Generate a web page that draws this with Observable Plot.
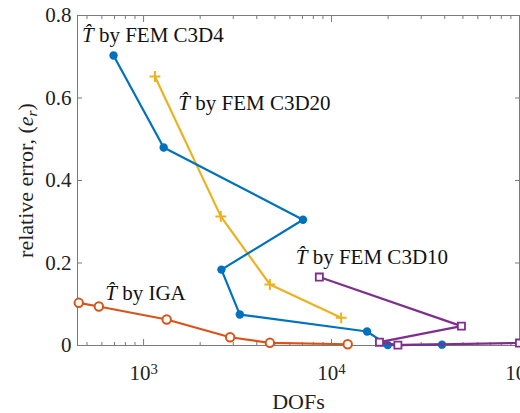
<!DOCTYPE html>
<html><head><meta charset="utf-8">
<script src="https://cdn.jsdelivr.net/npm/d3@7"></script>
<script src="https://cdn.jsdelivr.net/npm/@observablehq/plot@0.6"></script>
<style>body{margin:0;background:#fff}</style>
</head><body><div id="chart"></div>
<script>
// ---- data ----
const c3d4Dofs = [692, 1279, 7050, 2595, 3251, 15450, 19900, 38700];
const c3d4Err  = [0.703, 0.480, 0.305, 0.184, 0.075, 0.034, 0.001, 0.002];
const c3d20Dofs = [1149, 2575, 4698, 11250];
const c3d20Err  = [0.652, 0.313, 0.148, 0.067];
const igaDofs = [452, 578, 1327, 2887, 4698, 12190];
const igaErr  = [0.1035, 0.0945, 0.063, 0.020, 0.0065, 0.003];
const c3d10Dofs = [8610, 49100, 17990, 22540, 100000];
const c3d10Err  = [0.166, 0.047, 0.008, 0.001, 0.006];

const labelText = ["T\u0302 by FEM C3D4", "T\u0302 by FEM C3D20", "T\u0302 by FEM C3D10", "T\u0302 by IGA"];
const labelDofs = [470, 1530, 6450, 625];
const labelErr  = [0.752, 0.587, 0.213, 0.126];

const xMajor = [1e3, 1e4, 1e5];
const xMinor = [500, 600, 700, 800, 900, 2000, 3000, 4000, 5000, 6000, 7000, 8000, 9000,
                20000, 30000, 40000, 50000, 60000, 70000, 80000, 90000];
const yTicks = [0, 0.2, 0.4, 0.6, 0.8];
const xTitle = "DOFs";
const yTitle = "relative error, (e_r)";

const colors = {c3d4: "#0072BD", iga: "#D95319", c3d20: "#EDB120", c3d10: "#7E2F8E"};

const rows = (dofs, err) => dofs.map((d, i) => ({dofs: d, err: err[i]}));
const c3d4 = rows(c3d4Dofs, c3d4Err);
const c3d20 = rows(c3d20Dofs, c3d20Err);
const iga = rows(igaDofs, igaErr);
const c3d10 = rows(c3d10Dofs, c3d10Err);
const labels = labelText.map((t, i) => ({t, dofs: labelDofs[i], err: labelErr[i]}));

const axisColor = "#7a7a7a";
const lw = 2.2;
const serif = "Liberation Serif, DejaVu Serif, serif";

const chart = Plot.plot({
  width: 520, height: 413,
  marginLeft: 77, marginRight: 1, marginTop: 15, marginBottom: 68,
  style: {fontFamily: serif, fontSize: "21px", background: "white", color: "#222"},
  x: {type: "log", domain: [445, 1e5], label: null},
  y: {domain: [0, 0.8], label: null},
  marks: [
    Plot.frame({stroke: axisColor}),
    Plot.axisX(xMajor, {anchor: "bottom", tickSize: -6, tickFormat: () => "", stroke: axisColor}),
    Plot.axisX(xMajor, {anchor: "top", tickSize: -6, tickFormat: () => "", stroke: axisColor}),
    Plot.axisX(xMinor, {anchor: "bottom", tickSize: -3, tickFormat: () => "", stroke: axisColor}),
    Plot.axisX(xMinor, {anchor: "top", tickSize: -3, tickFormat: () => "", stroke: axisColor}),
    Plot.axisY(yTicks, {anchor: "left", tickSize: -5, tickFormat: () => "", stroke: axisColor}),
    Plot.axisY(yTicks, {anchor: "right", tickSize: -5, tickFormat: () => "", stroke: axisColor}),
    Plot.axisX(xMajor, {anchor: "bottom", tickSize: 0, tickPadding: 20, fontSize: 21, fontFamily: serif,
      tickFormat: d => "10^" + Math.round(Math.log10(d)), fill: "#222"}),
    Plot.axisY(yTicks, {anchor: "left", tickSize: 0, tickPadding: 6, fontSize: 21, fontFamily: serif,
      tickFormat: d => d === 0 ? "0" : d.toFixed(1), fill: "#222"}),
    Plot.text([xTitle], {frameAnchor: "bottom", dy: 56, lineAnchor: "middle", textAnchor: "middle",
      text: d => d, fontSize: 22, fontFamily: serif, fill: "#222"}),
    Plot.text([yTitle], {frameAnchor: "left", dx: -52, rotate: -90, textAnchor: "middle", lineAnchor: "middle",
      text: d => d, fontSize: 22, fontFamily: serif, fill: "#222"}),

    Plot.line(iga, {x: "dofs", y: "err", stroke: colors.iga, strokeWidth: lw}),
    Plot.dot(iga, {x: "dofs", y: "err", stroke: colors.iga, fill: "white", r: 4.2, strokeWidth: 2}),
    Plot.line(c3d20, {x: "dofs", y: "err", stroke: colors.c3d20, strokeWidth: lw}),
    Plot.dot(c3d20, {x: "dofs", y: "err", stroke: colors.c3d20, symbol: "plus", r: 3.6, strokeWidth: 2}),
    Plot.line(c3d4, {x: "dofs", y: "err", stroke: colors.c3d4, strokeWidth: lw}),
    Plot.dot(c3d4, {x: "dofs", y: "err", fill: colors.c3d4, r: 4.2}),
    Plot.line(c3d10, {x: "dofs", y: "err", stroke: colors.c3d10, strokeWidth: lw}),
    Plot.dot(c3d10, {x: "dofs", y: "err", stroke: colors.c3d10, fill: "white", symbol: "square", r: 4, strokeWidth: 1.8}),

    Plot.text(labels, {x: "dofs", y: "err", text: "t", textAnchor: "start", fontSize: 21, fontFamily: serif, fill: "#111"})
  ]
});

document.getElementById("chart").appendChild(chart);

// rich-text post-processing
const svg = d3.select(chart);
svg.selectAll("text").each(function () {
  const el = d3.select(this);
  const s = this.textContent;
  if (/^10\^\d$/.test(s)) {
    const [base, exp] = s.split("^");
    el.text("");
    el.append("tspan").text(base);
    el.append("tspan").attr("dy", "-0.45em").attr("font-size", "0.7em").text(exp);
  } else if (s.startsWith("T\u0302")) {
    el.text("");
    el.append("tspan").attr("font-style", "italic").text("T\u0302");
    el.append("tspan").text(s.slice(2));
  } else if (s === yTitle) {
    const pre = s.slice(0, s.indexOf("(") + 1);
    el.text("");
    el.append("tspan").text(pre);
    el.append("tspan").attr("font-style", "italic").text("e");
    el.append("tspan").attr("font-style", "italic").attr("font-size", "0.7em").attr("dy", "0.3em").text("r");
    el.append("tspan").attr("dy", "-0.21em").text(")");
  }
});
</script>
</body></html>
